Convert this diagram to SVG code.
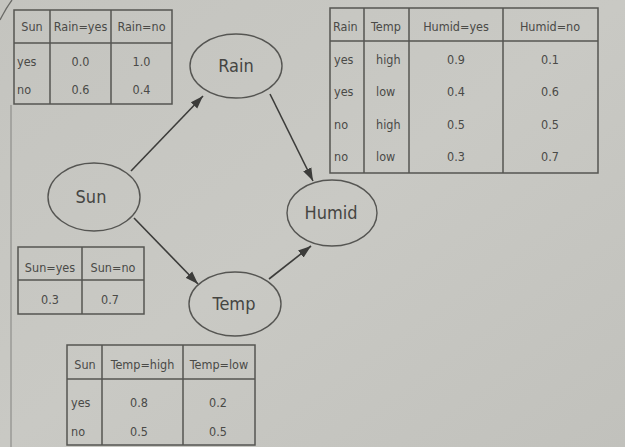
<svg xmlns="http://www.w3.org/2000/svg" width="625" height="447" viewBox="0 0 625 447">
  <defs>
    <linearGradient id="paper" x1="0" y1="0" x2="1" y2="1">
      <stop offset="0" stop-color="#c4c4bf"/>
      <stop offset="0.5" stop-color="#c9c9c4"/>
      <stop offset="1" stop-color="#c1c1bc"/>
    </linearGradient>
    <marker id="arrow" markerUnits="userSpaceOnUse" markerWidth="14" markerHeight="10" refX="13" refY="5" orient="auto">
      <path d="M0,0.5 L13,5 L0,9.5 Z" fill="#3c3c3a"/>
    </marker>
    <style>
      .grid { fill: none; stroke: #555552; stroke-width: 1.5; }
      .cell { font-family: "DejaVu Sans Condensed", "Liberation Sans", Arial, sans-serif; font-stretch: condensed; font-size: 12.5px; fill: #4a4a47; }
      .c { text-anchor: middle; }
      .node ellipse { fill: none; stroke: #555552; stroke-width: 1.4; }
      .node text { font-family: "DejaVu Sans Condensed", "Liberation Sans", Arial, sans-serif; font-stretch: condensed; font-size: 18px; fill: #454542; text-anchor: middle; }
      .edge { stroke: #3c3c3a; stroke-width: 1.6; fill: none; marker-end: url(#arrow); }
    </style>
  </defs>

  <!-- page -->
  <rect width="625" height="447" fill="url(#paper)"/>
  <path d="M0,20 Q6,8 12,0" fill="none" stroke="#6a6a66" stroke-width="1.3"/>
  <line x1="11" y1="105" x2="11" y2="447" stroke="#8e8e8a" stroke-width="1.2"/>

  <!-- P(Rain | Sun) -->
  <g id="table-rain">
    <rect class="grid" x="14" y="10" width="158" height="94"/>
    <path class="grid" d="M14,43 H172 M50,10 V104 M111,10 V104"/>
    <text class="cell c" x="32" y="31">Sun</text>
    <text class="cell c" x="80.5" y="31">Rain=yes</text>
    <text class="cell c" x="141.5" y="31">Rain=no</text>
    <text class="cell" x="17" y="66">yes</text>
    <text class="cell c" x="80.5" y="66">0.0</text>
    <text class="cell c" x="141.5" y="66">1.0</text>
    <text class="cell" x="17" y="94">no</text>
    <text class="cell c" x="80.5" y="94">0.6</text>
    <text class="cell c" x="141.5" y="94">0.4</text>
  </g>

  <!-- P(Humid | Rain, Temp) -->
  <g id="table-humid">
    <rect class="grid" x="330" y="8" width="268" height="165"/>
    <path class="grid" d="M330,41 H598 M364,8 V173 M409,8 V173 M503,8 V173"/>
    <text class="cell" x="333" y="31">Rain</text>
    <text class="cell c" x="386" y="31">Temp</text>
    <text class="cell c" x="456" y="31">Humid=yes</text>
    <text class="cell c" x="550" y="31">Humid=no</text>
    <text class="cell" x="334" y="64">yes</text>
    <text class="cell" x="376" y="64">high</text>
    <text class="cell c" x="456" y="64">0.9</text>
    <text class="cell c" x="550" y="64">0.1</text>
    <text class="cell" x="334" y="96">yes</text>
    <text class="cell" x="376" y="96">low</text>
    <text class="cell c" x="456" y="96">0.4</text>
    <text class="cell c" x="550" y="96">0.6</text>
    <text class="cell" x="334" y="129">no</text>
    <text class="cell" x="376" y="129">high</text>
    <text class="cell c" x="456" y="129">0.5</text>
    <text class="cell c" x="550" y="129">0.5</text>
    <text class="cell" x="334" y="161">no</text>
    <text class="cell" x="376" y="161">low</text>
    <text class="cell c" x="456" y="161">0.3</text>
    <text class="cell c" x="550" y="161">0.7</text>
  </g>

  <!-- P(Sun) -->
  <g id="table-sun">
    <rect class="grid" x="18" y="247" width="126" height="67"/>
    <path class="grid" d="M18,280 H144 M82,247 V314"/>
    <text class="cell c" x="50" y="272">Sun=yes</text>
    <text class="cell c" x="113" y="272">Sun=no</text>
    <text class="cell c" x="50" y="304">0.3</text>
    <text class="cell c" x="110" y="304">0.7</text>
  </g>

  <!-- P(Temp | Sun) -->
  <g id="table-temp">
    <rect class="grid" x="67" y="345" width="188" height="100"/>
    <path class="grid" d="M67,379 H255 M102,345 V445 M183,345 V445"/>
    <text class="cell c" x="85" y="369">Sun</text>
    <text class="cell c" x="142.5" y="369">Temp=high</text>
    <text class="cell c" x="219" y="369">Temp=low</text>
    <text class="cell" x="71" y="407">yes</text>
    <text class="cell c" x="139" y="407">0.8</text>
    <text class="cell c" x="218" y="407">0.2</text>
    <text class="cell" x="71" y="436">no</text>
    <text class="cell c" x="139" y="436">0.5</text>
    <text class="cell c" x="218" y="436">0.5</text>
  </g>

  <!-- nodes -->
  <g id="node-rain" class="node">
    <ellipse cx="236" cy="66" rx="46" ry="32"/>
    <text x="236" y="72">Rain</text>
  </g>
  <g id="node-sun" class="node">
    <ellipse cx="94" cy="197" rx="46" ry="34"/>
    <text x="91" y="203">Sun</text>
  </g>
  <g id="node-humid" class="node">
    <ellipse cx="332" cy="213" rx="45" ry="33"/>
    <text x="331" y="219">Humid</text>
  </g>
  <g id="node-temp" class="node">
    <ellipse cx="235" cy="304" rx="46" ry="32"/>
    <text x="234" y="310">Temp</text>
  </g>

  <!-- connectors -->
  <g id="edges">
    <line class="edge" x1="131" y1="171" x2="203" y2="96"/>
    <line class="edge" x1="270" y1="94" x2="313" y2="181"/>
    <line class="edge" x1="134" y1="218" x2="198" y2="284"/>
    <line class="edge" x1="269" y1="279" x2="311" y2="246"/>
  </g>
</svg>
